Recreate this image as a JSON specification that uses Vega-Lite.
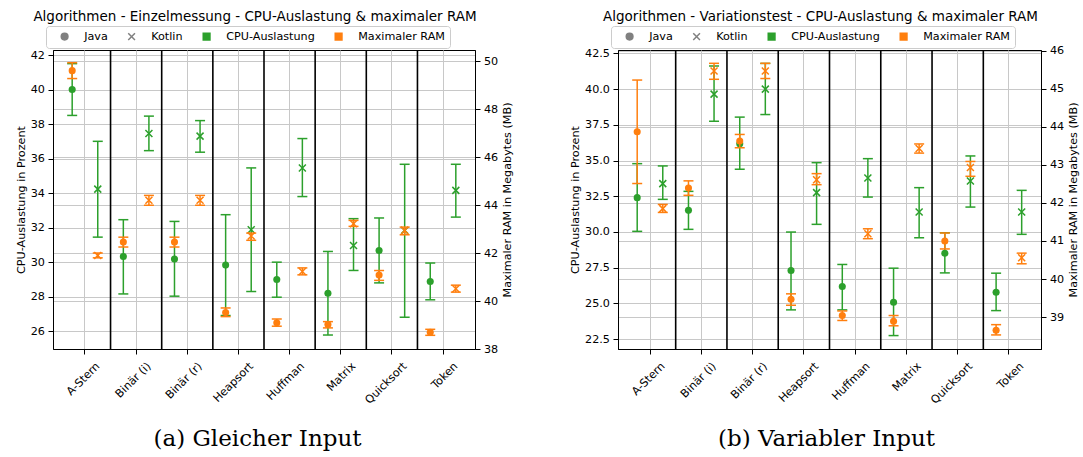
{
  "$schema": "https://vega.github.io/schema/vega-lite/v6.json",
  "padding": {"left": 14, "top": 9, "right": 0, "bottom": 3},
  "spacing": 55,
  "config": {
    "font": "DejaVu Sans",
    "view": {"stroke": "#000", "strokeWidth": 1},
    "axis": {"labelFont": "DejaVu Sans", "labelFontSize": 11.2, "labelColor": "#000", "titleFont": "DejaVu Sans", "titleFontSize": 11.2, "titleFontWeight": "normal", "titleColor": "#000", "tickColor": "#000", "tickSize": 5, "domainColor": "#000", "gridColor": "#c8c8c8", "gridWidth": 1, "labelPadding": 3.5, "titlePadding": 4},
    "axisRight": {"titleAngle": 270, "titleBaseline": "top"},
    "title": {"font": "DejaVu Sans", "fontSize": 13.5, "fontWeight": "normal", "color": "#000", "offset": 2},
    "legend": {"labelFont": "DejaVu Sans", "labelFontSize": 11.2, "labelColor": "#000"}
  },
  "datasets": {
    "gleich": [
      {"algo": "A-Stern", "lang": "Java", "metric": "CPU", "mean": 40.0, "lo": 38.5, "hi": 41.5},
      {"algo": "A-Stern", "lang": "Java", "metric": "RAM", "mean": 49.6, "lo": 49.27, "hi": 49.93},
      {"algo": "A-Stern", "lang": "Kotlin", "metric": "CPU", "mean": 34.23, "lo": 31.45, "hi": 37.0},
      {"algo": "A-Stern", "lang": "Kotlin", "metric": "RAM", "mean": 41.9, "lo": 41.8, "hi": 42.0},
      {"algo": "Binär (i)", "lang": "Java", "metric": "CPU", "mean": 30.33, "lo": 28.16, "hi": 32.46},
      {"algo": "Binär (i)", "lang": "Java", "metric": "RAM", "mean": 42.46, "lo": 42.25, "hi": 42.66},
      {"algo": "Binär (i)", "lang": "Kotlin", "metric": "CPU", "mean": 37.45, "lo": 36.46, "hi": 38.46},
      {"algo": "Binär (i)", "lang": "Kotlin", "metric": "RAM", "mean": 44.2, "lo": 43.99, "hi": 44.4},
      {"algo": "Binär (r)", "lang": "Java", "metric": "CPU", "mean": 30.18, "lo": 28.03, "hi": 32.36},
      {"algo": "Binär (r)", "lang": "Java", "metric": "RAM", "mean": 42.46, "lo": 42.25, "hi": 42.66},
      {"algo": "Binär (r)", "lang": "Kotlin", "metric": "CPU", "mean": 37.3, "lo": 36.37, "hi": 38.2},
      {"algo": "Binär (r)", "lang": "Kotlin", "metric": "RAM", "mean": 44.2, "lo": 43.99, "hi": 44.4},
      {"algo": "Heapsort", "lang": "Java", "metric": "CPU", "mean": 29.83, "lo": 26.91, "hi": 32.75},
      {"algo": "Heapsort", "lang": "Java", "metric": "RAM", "mean": 39.52, "lo": 39.35, "hi": 39.71},
      {"algo": "Heapsort", "lang": "Kotlin", "metric": "CPU", "mean": 31.88, "lo": 28.3, "hi": 35.46},
      {"algo": "Heapsort", "lang": "Kotlin", "metric": "RAM", "mean": 42.71, "lo": 42.53, "hi": 42.83},
      {"algo": "Huffman", "lang": "Java", "metric": "CPU", "mean": 29.0, "lo": 27.97, "hi": 30.0},
      {"algo": "Huffman", "lang": "Java", "metric": "RAM", "mean": 39.09, "lo": 38.95, "hi": 39.25},
      {"algo": "Huffman", "lang": "Kotlin", "metric": "CPU", "mean": 35.46, "lo": 33.8, "hi": 37.16},
      {"algo": "Huffman", "lang": "Kotlin", "metric": "RAM", "mean": 41.23, "lo": 41.09, "hi": 41.38},
      {"algo": "Matrix", "lang": "Java", "metric": "CPU", "mean": 28.2, "lo": 25.78, "hi": 30.62},
      {"algo": "Matrix", "lang": "Java", "metric": "RAM", "mean": 39.02, "lo": 38.88, "hi": 39.14},
      {"algo": "Matrix", "lang": "Kotlin", "metric": "CPU", "mean": 30.97, "lo": 29.52, "hi": 32.52},
      {"algo": "Matrix", "lang": "Kotlin", "metric": "RAM", "mean": 43.22, "lo": 43.11, "hi": 43.36},
      {"algo": "Quicksort", "lang": "Java", "metric": "CPU", "mean": 30.68, "lo": 28.8, "hi": 32.56},
      {"algo": "Quicksort", "lang": "Java", "metric": "RAM", "mean": 41.08, "lo": 40.86, "hi": 41.27},
      {"algo": "Quicksort", "lang": "Kotlin", "metric": "CPU", "mean": 31.84, "lo": 26.81, "hi": 35.67},
      {"algo": "Quicksort", "lang": "Kotlin", "metric": "RAM", "mean": 42.94, "lo": 42.76, "hi": 43.08},
      {"algo": "Token", "lang": "Java", "metric": "CPU", "mean": 28.88, "lo": 27.82, "hi": 29.95},
      {"algo": "Token", "lang": "Java", "metric": "RAM", "mean": 38.7, "lo": 38.57, "hi": 38.82},
      {"algo": "Token", "lang": "Kotlin", "metric": "CPU", "mean": 34.16, "lo": 32.61, "hi": 35.67},
      {"algo": "Token", "lang": "Kotlin", "metric": "RAM", "mean": 40.51, "lo": 40.37, "hi": 40.66}
    ],
    "variabel": [
      {"algo": "A-Stern", "lang": "Java", "metric": "CPU", "mean": 32.4, "lo": 30.04, "hi": 34.78},
      {"algo": "A-Stern", "lang": "Java", "metric": "RAM", "mean": 43.87, "lo": 42.51, "hi": 45.23},
      {"algo": "A-Stern", "lang": "Kotlin", "metric": "CPU", "mean": 33.38, "lo": 32.28, "hi": 34.62},
      {"algo": "A-Stern", "lang": "Kotlin", "metric": "RAM", "mean": 41.85, "lo": 41.75, "hi": 41.96},
      {"algo": "Binär (i)", "lang": "Java", "metric": "CPU", "mean": 31.51, "lo": 30.18, "hi": 32.84},
      {"algo": "Binär (i)", "lang": "Java", "metric": "RAM", "mean": 42.39, "lo": 42.2, "hi": 42.58},
      {"algo": "Binär (i)", "lang": "Kotlin", "metric": "CPU", "mean": 39.65, "lo": 37.75, "hi": 41.62},
      {"algo": "Binär (i)", "lang": "Kotlin", "metric": "RAM", "mean": 45.47, "lo": 45.25, "hi": 45.67},
      {"algo": "Binär (r)", "lang": "Java", "metric": "CPU", "mean": 36.18, "lo": 34.39, "hi": 38.04},
      {"algo": "Binär (r)", "lang": "Java", "metric": "RAM", "mean": 43.63, "lo": 43.45, "hi": 43.8},
      {"algo": "Binär (r)", "lang": "Kotlin", "metric": "CPU", "mean": 40.0, "lo": 38.22, "hi": 41.8},
      {"algo": "Binär (r)", "lang": "Kotlin", "metric": "RAM", "mean": 45.47, "lo": 45.27, "hi": 45.67},
      {"algo": "Heapsort", "lang": "Java", "metric": "CPU", "mean": 27.3, "lo": 24.54, "hi": 29.99},
      {"algo": "Heapsort", "lang": "Java", "metric": "RAM", "mean": 39.47, "lo": 39.31, "hi": 39.61},
      {"algo": "Heapsort", "lang": "Kotlin", "metric": "CPU", "mean": 32.75, "lo": 30.53, "hi": 34.85},
      {"algo": "Heapsort", "lang": "Kotlin", "metric": "RAM", "mean": 42.61, "lo": 42.48, "hi": 42.77},
      {"algo": "Huffman", "lang": "Java", "metric": "CPU", "mean": 26.18, "lo": 24.54, "hi": 27.72},
      {"algo": "Huffman", "lang": "Java", "metric": "RAM", "mean": 39.04, "lo": 38.91, "hi": 39.16},
      {"algo": "Huffman", "lang": "Kotlin", "metric": "CPU", "mean": 33.78, "lo": 32.44, "hi": 35.13},
      {"algo": "Huffman", "lang": "Kotlin", "metric": "RAM", "mean": 41.19, "lo": 41.06, "hi": 41.32},
      {"algo": "Matrix", "lang": "Java", "metric": "CPU", "mean": 25.07, "lo": 22.74, "hi": 27.46},
      {"algo": "Matrix", "lang": "Java", "metric": "RAM", "mean": 38.89, "lo": 38.77, "hi": 39.04},
      {"algo": "Matrix", "lang": "Kotlin", "metric": "CPU", "mean": 31.39, "lo": 29.59, "hi": 33.1},
      {"algo": "Matrix", "lang": "Kotlin", "metric": "RAM", "mean": 43.43, "lo": 43.31, "hi": 43.55},
      {"algo": "Quicksort", "lang": "Java", "metric": "CPU", "mean": 28.51, "lo": 27.13, "hi": 29.94},
      {"algo": "Quicksort", "lang": "Java", "metric": "RAM", "mean": 41.0, "lo": 40.79, "hi": 41.21},
      {"algo": "Quicksort", "lang": "Kotlin", "metric": "CPU", "mean": 33.57, "lo": 31.74, "hi": 35.32},
      {"algo": "Quicksort", "lang": "Kotlin", "metric": "RAM", "mean": 42.93, "lo": 42.7, "hi": 43.09},
      {"algo": "Token", "lang": "Java", "metric": "CPU", "mean": 25.78, "lo": 24.49, "hi": 27.11},
      {"algo": "Token", "lang": "Java", "metric": "RAM", "mean": 38.65, "lo": 38.53, "hi": 38.8},
      {"algo": "Token", "lang": "Kotlin", "metric": "CPU", "mean": 31.39, "lo": 29.83, "hi": 32.91},
      {"algo": "Token", "lang": "Kotlin", "metric": "RAM", "mean": 40.56, "lo": 40.4, "hi": 40.68}
    ],
    "legende": [
      {"entry": "Java"}, {"entry": "Kotlin"}, {"entry": "CPU-Auslastung"}, {"entry": "Maximaler RAM"}
    ]
  },
  "resolve": {
    "scale": {"fill": "independent", "stroke": "independent", "shape": "independent"},
    "legend": {"fill": "independent", "stroke": "independent", "shape": "independent"}
  },
  "hconcat": [
    {
      "width": 422, "height": 299,
      "title": {"text": "Algorithmen - Einzelmessung - CPU-Auslastung & maximaler RAM", "dx": -9, "frame": "group"},
      "data": {"name": "gleich"},
      "encoding": {
        "x": {"field": "algo", "type": "nominal", "scale": {"domain": ["A-Stern", "Binär (i)", "Binär (r)", "Heapsort", "Huffman", "Matrix", "Quicksort", "Token"], "paddingInner": 0, "paddingOuter": 0.125},
          "axis": {"title": "(a) Gleicher Input", "titleFont": "DejaVu Serif", "titleFontSize": 23, "titlePadding": 22, "titleX": 204, "labelAngle": -45, "labelAlign": "right", "labelBaseline": "top", "labelOffset": 9, "labelPadding": 6, "labelOverlap": false, "grid": true}}
      },
      "layer": [
        {
          "transform": [{"filter": "datum.metric === 'CPU' && datum.lang === 'Java' && datum.algo !== 'Token'"}],
          "mark": {"type": "rule", "color": "#000", "strokeWidth": 1.6},
          "encoding": {"x": {"field": "algo", "type": "nominal", "bandPosition": 1}}
        },
        {
          "transform": [{"filter": "datum.metric === 'CPU'"}],
          "encoding": {"xOffset": {"field": "lang", "type": "nominal", "scale": {"domain": ["Java", "Kotlin"], "paddingInner": 0, "paddingOuter": 0}}},
          "layer": [
            {"mark": {"type": "rule", "color": "#2ca02c", "strokeWidth": 1.5},
             "encoding": {"y": {"field": "lo", "type": "quantitative", "scale": {"domain": [24.97, 42.29], "nice": false, "zero": false}, "axis": {"title": "CPU-Auslastung in Prozent", "values": [26, 28, 30, 32, 34, 36, 38, 40, 42], "grid": true}}, "y2": {"field": "hi"}}},
            {"mark": {"type": "tick", "color": "#2ca02c", "thickness": 1.5, "size": 10, "opacity": 1},
             "encoding": {"y": {"field": "lo", "type": "quantitative", "scale": {"domain": [24.97, 42.29], "nice": false, "zero": false}, "axis": {"title": "CPU-Auslastung in Prozent", "values": [26, 28, 30, 32, 34, 36, 38, 40, 42], "grid": true}}}},
            {"mark": {"type": "tick", "color": "#2ca02c", "thickness": 1.5, "size": 10, "opacity": 1},
             "encoding": {"y": {"field": "hi", "type": "quantitative", "scale": {"domain": [24.97, 42.29], "nice": false, "zero": false}, "axis": {"title": "CPU-Auslastung in Prozent", "values": [26, 28, 30, 32, 34, 36, 38, 40, 42], "grid": true}}}},
            {"transform": [{"filter": "datum.lang === 'Java'"}],
             "mark": {"type": "circle", "color": "#2ca02c", "size": 50, "opacity": 1},
             "encoding": {"y": {"field": "mean", "type": "quantitative", "scale": {"domain": [24.97, 42.29], "nice": false, "zero": false}, "axis": {"title": "CPU-Auslastung in Prozent", "values": [26, 28, 30, 32, 34, 36, 38, 40, 42], "grid": true}}}},
            {"transform": [{"filter": "datum.lang === 'Kotlin'"}],
             "mark": {"type": "point", "shape": "M-1,-1L1,1M-1,1L1,-1", "filled": false, "color": "#2ca02c", "strokeWidth": 1.5, "size": 49, "opacity": 1},
             "encoding": {"y": {"field": "mean", "type": "quantitative", "scale": {"domain": [24.97, 42.29], "nice": false, "zero": false}, "axis": {"title": "CPU-Auslastung in Prozent", "values": [26, 28, 30, 32, 34, 36, 38, 40, 42], "grid": true}}}}
          ]
        },
        {
          "transform": [{"filter": "datum.metric === 'RAM'"}],
          "encoding": {"xOffset": {"field": "lang", "type": "nominal", "scale": {"domain": ["Java", "Kotlin"], "paddingInner": 0, "paddingOuter": 0}}},
          "layer": [
            {"mark": {"type": "rule", "color": "#ff7f0e", "strokeWidth": 1.5},
             "encoding": {"y": {"field": "lo", "type": "quantitative", "scale": {"domain": [38.0, 50.46], "nice": false, "zero": false}, "axis": {"title": "Maximaler RAM in Megabytes (MB)", "orient": "right", "values": [38, 40, 42, 44, 46, 48, 50], "grid": true}}, "y2": {"field": "hi"}}},
            {"mark": {"type": "tick", "color": "#ff7f0e", "thickness": 1.5, "size": 10, "opacity": 1},
             "encoding": {"y": {"field": "lo", "type": "quantitative", "scale": {"domain": [38.0, 50.46], "nice": false, "zero": false}, "axis": {"title": "Maximaler RAM in Megabytes (MB)", "orient": "right", "values": [38, 40, 42, 44, 46, 48, 50], "grid": true}}}},
            {"mark": {"type": "tick", "color": "#ff7f0e", "thickness": 1.5, "size": 10, "opacity": 1},
             "encoding": {"y": {"field": "hi", "type": "quantitative", "scale": {"domain": [38.0, 50.46], "nice": false, "zero": false}, "axis": {"title": "Maximaler RAM in Megabytes (MB)", "orient": "right", "values": [38, 40, 42, 44, 46, 48, 50], "grid": true}}}},
            {"transform": [{"filter": "datum.lang === 'Java'"}],
             "mark": {"type": "circle", "color": "#ff7f0e", "size": 50, "opacity": 1},
             "encoding": {"y": {"field": "mean", "type": "quantitative", "scale": {"domain": [38.0, 50.46], "nice": false, "zero": false}, "axis": {"title": "Maximaler RAM in Megabytes (MB)", "orient": "right", "values": [38, 40, 42, 44, 46, 48, 50], "grid": true}}}},
            {"transform": [{"filter": "datum.lang === 'Kotlin'"}],
             "mark": {"type": "point", "shape": "M-1,-1L1,1M-1,1L1,-1", "filled": false, "color": "#ff7f0e", "strokeWidth": 1.5, "size": 49, "opacity": 1},
             "encoding": {"y": {"field": "mean", "type": "quantitative", "scale": {"domain": [38.0, 50.46], "nice": false, "zero": false}, "axis": {"title": "Maximaler RAM in Megabytes (MB)", "orient": "right", "values": [38, 40, 42, 44, 46, 48, 50], "grid": true}}}}
          ]
        },
        {
          "data": {"name": "legende"},
          "mark": {"type": "point", "filled": true, "opacity": 0},
          "encoding": {
            "x": null,
            "fill": {"field": "entry", "type": "nominal", "scale": {"domain": ["Java", "Kotlin", "CPU-Auslastung", "Maximaler RAM"], "range": ["#808080", "#808080", "#2ca02c", "#ff7f0e"]},
              "legend": {"title": null, "orient": "none", "legendX": -7, "legendY": -24, "direction": "horizontal", "symbolOpacity": 1, "symbolSize": 45, "symbolStrokeWidth": 1.5, "symbolOffset": 8, "labelOffset": 14, "columnPadding": 10, "padding": 5, "strokeColor": "#cccccc", "fillColor": "#ffffff", "cornerRadius": 3}},
            "stroke": {"field": "entry", "type": "nominal", "scale": {"domain": ["Java", "Kotlin", "CPU-Auslastung", "Maximaler RAM"], "range": ["#808080", "#808080", "#2ca02c", "#ff7f0e"]},
              "legend": {"title": null, "orient": "none", "legendX": -7, "legendY": -24, "direction": "horizontal", "symbolOpacity": 1, "symbolSize": 45, "symbolStrokeWidth": 1.5, "symbolOffset": 8, "labelOffset": 14, "columnPadding": 10, "padding": 5, "strokeColor": "#cccccc", "fillColor": "#ffffff", "cornerRadius": 3}},
            "shape": {"field": "entry", "type": "nominal", "scale": {"domain": ["Java", "Kotlin", "CPU-Auslastung", "Maximaler RAM"], "range": ["circle", "M-1,-1L1,1M-1,1L1,-1", "square", "square"]},
              "legend": {"title": null, "orient": "none", "legendX": -7, "legendY": -24, "direction": "horizontal", "symbolOpacity": 1, "symbolSize": 45, "symbolStrokeWidth": 1.5, "symbolOffset": 8, "labelOffset": 14, "columnPadding": 10, "padding": 5, "strokeColor": "#cccccc", "fillColor": "#ffffff", "cornerRadius": 3}}
          }
        }
      ],
      "resolve": {"scale": {"y": "independent"}}
    },
    {
      "width": 423, "height": 299,
      "title": {"text": "Algorithmen - Variationstest - CPU-Auslastung & maximaler RAM", "dx": -9, "frame": "group"},
      "data": {"name": "variabel"},
      "encoding": {
        "x": {"field": "algo", "type": "nominal", "scale": {"domain": ["A-Stern", "Binär (i)", "Binär (r)", "Heapsort", "Huffman", "Matrix", "Quicksort", "Token"], "paddingInner": 0, "paddingOuter": 0.125},
          "axis": {"title": "(b) Variabler Input", "titleFont": "DejaVu Serif", "titleFontSize": 23, "titlePadding": 22, "titleX": 208, "labelAngle": -45, "labelAlign": "right", "labelBaseline": "top", "labelOffset": 9, "labelPadding": 6, "labelOverlap": false, "grid": true}}
      },
      "layer": [
        {
          "transform": [{"filter": "datum.metric === 'CPU' && datum.lang === 'Java' && datum.algo !== 'Token'"}],
          "mark": {"type": "rule", "color": "#000", "strokeWidth": 1.6},
          "encoding": {"x": {"field": "algo", "type": "nominal", "bandPosition": 1}}
        },
        {
          "transform": [{"filter": "datum.metric === 'CPU'"}],
          "encoding": {"xOffset": {"field": "lang", "type": "nominal", "scale": {"domain": ["Java", "Kotlin"], "paddingInner": 0, "paddingOuter": 0}}},
          "layer": [
            {"mark": {"type": "rule", "color": "#2ca02c", "strokeWidth": 1.5},
             "encoding": {"y": {"field": "lo", "type": "quantitative", "scale": {"domain": [21.8, 42.74], "nice": false, "zero": false}, "axis": {"title": "CPU-Auslastung in Prozent", "values": [22.5, 25, 27.5, 30, 32.5, 35, 37.5, 40, 42.5], "format": ".1f", "grid": true}}, "y2": {"field": "hi"}}},
            {"mark": {"type": "tick", "color": "#2ca02c", "thickness": 1.5, "size": 10, "opacity": 1},
             "encoding": {"y": {"field": "lo", "type": "quantitative", "scale": {"domain": [21.8, 42.74], "nice": false, "zero": false}, "axis": {"title": "CPU-Auslastung in Prozent", "values": [22.5, 25, 27.5, 30, 32.5, 35, 37.5, 40, 42.5], "format": ".1f", "grid": true}}}},
            {"mark": {"type": "tick", "color": "#2ca02c", "thickness": 1.5, "size": 10, "opacity": 1},
             "encoding": {"y": {"field": "hi", "type": "quantitative", "scale": {"domain": [21.8, 42.74], "nice": false, "zero": false}, "axis": {"title": "CPU-Auslastung in Prozent", "values": [22.5, 25, 27.5, 30, 32.5, 35, 37.5, 40, 42.5], "format": ".1f", "grid": true}}}},
            {"transform": [{"filter": "datum.lang === 'Java'"}],
             "mark": {"type": "circle", "color": "#2ca02c", "size": 50, "opacity": 1},
             "encoding": {"y": {"field": "mean", "type": "quantitative", "scale": {"domain": [21.8, 42.74], "nice": false, "zero": false}, "axis": {"title": "CPU-Auslastung in Prozent", "values": [22.5, 25, 27.5, 30, 32.5, 35, 37.5, 40, 42.5], "format": ".1f", "grid": true}}}},
            {"transform": [{"filter": "datum.lang === 'Kotlin'"}],
             "mark": {"type": "point", "shape": "M-1,-1L1,1M-1,1L1,-1", "filled": false, "color": "#2ca02c", "strokeWidth": 1.5, "size": 49, "opacity": 1},
             "encoding": {"y": {"field": "mean", "type": "quantitative", "scale": {"domain": [21.8, 42.74], "nice": false, "zero": false}, "axis": {"title": "CPU-Auslastung in Prozent", "values": [22.5, 25, 27.5, 30, 32.5, 35, 37.5, 40, 42.5], "format": ".1f", "grid": true}}}}
          ]
        },
        {
          "transform": [{"filter": "datum.metric === 'RAM'"}],
          "encoding": {"xOffset": {"field": "lang", "type": "nominal", "scale": {"domain": ["Java", "Kotlin"], "paddingInner": 0, "paddingOuter": 0}}},
          "layer": [
            {"mark": {"type": "rule", "color": "#ff7f0e", "strokeWidth": 1.5},
             "encoding": {"y": {"field": "lo", "type": "quantitative", "scale": {"domain": [38.16, 46.02], "nice": false, "zero": false}, "axis": {"title": "Maximaler RAM in Megabytes (MB)", "orient": "right", "values": [39, 40, 41, 42, 43, 44, 45, 46], "grid": true}}, "y2": {"field": "hi"}}},
            {"mark": {"type": "tick", "color": "#ff7f0e", "thickness": 1.5, "size": 10, "opacity": 1},
             "encoding": {"y": {"field": "lo", "type": "quantitative", "scale": {"domain": [38.16, 46.02], "nice": false, "zero": false}, "axis": {"title": "Maximaler RAM in Megabytes (MB)", "orient": "right", "values": [39, 40, 41, 42, 43, 44, 45, 46], "grid": true}}}},
            {"mark": {"type": "tick", "color": "#ff7f0e", "thickness": 1.5, "size": 10, "opacity": 1},
             "encoding": {"y": {"field": "hi", "type": "quantitative", "scale": {"domain": [38.16, 46.02], "nice": false, "zero": false}, "axis": {"title": "Maximaler RAM in Megabytes (MB)", "orient": "right", "values": [39, 40, 41, 42, 43, 44, 45, 46], "grid": true}}}},
            {"transform": [{"filter": "datum.lang === 'Java'"}],
             "mark": {"type": "circle", "color": "#ff7f0e", "size": 50, "opacity": 1},
             "encoding": {"y": {"field": "mean", "type": "quantitative", "scale": {"domain": [38.16, 46.02], "nice": false, "zero": false}, "axis": {"title": "Maximaler RAM in Megabytes (MB)", "orient": "right", "values": [39, 40, 41, 42, 43, 44, 45, 46], "grid": true}}}},
            {"transform": [{"filter": "datum.lang === 'Kotlin'"}],
             "mark": {"type": "point", "shape": "M-1,-1L1,1M-1,1L1,-1", "filled": false, "color": "#ff7f0e", "strokeWidth": 1.5, "size": 49, "opacity": 1},
             "encoding": {"y": {"field": "mean", "type": "quantitative", "scale": {"domain": [38.16, 46.02], "nice": false, "zero": false}, "axis": {"title": "Maximaler RAM in Megabytes (MB)", "orient": "right", "values": [39, 40, 41, 42, 43, 44, 45, 46], "grid": true}}}}
          ]
        },
        {
          "data": {"name": "legende"},
          "mark": {"type": "point", "filled": true, "opacity": 0},
          "encoding": {
            "x": null,
            "fill": {"field": "entry", "type": "nominal", "scale": {"domain": ["Java", "Kotlin", "CPU-Auslastung", "Maximaler RAM"], "range": ["#808080", "#808080", "#2ca02c", "#ff7f0e"]},
              "legend": {"title": null, "orient": "none", "legendX": -7, "legendY": -24, "direction": "horizontal", "symbolOpacity": 1, "symbolSize": 45, "symbolStrokeWidth": 1.5, "symbolOffset": 8, "labelOffset": 14, "columnPadding": 10, "padding": 5, "strokeColor": "#cccccc", "fillColor": "#ffffff", "cornerRadius": 3}},
            "stroke": {"field": "entry", "type": "nominal", "scale": {"domain": ["Java", "Kotlin", "CPU-Auslastung", "Maximaler RAM"], "range": ["#808080", "#808080", "#2ca02c", "#ff7f0e"]},
              "legend": {"title": null, "orient": "none", "legendX": -7, "legendY": -24, "direction": "horizontal", "symbolOpacity": 1, "symbolSize": 45, "symbolStrokeWidth": 1.5, "symbolOffset": 8, "labelOffset": 14, "columnPadding": 10, "padding": 5, "strokeColor": "#cccccc", "fillColor": "#ffffff", "cornerRadius": 3}},
            "shape": {"field": "entry", "type": "nominal", "scale": {"domain": ["Java", "Kotlin", "CPU-Auslastung", "Maximaler RAM"], "range": ["circle", "M-1,-1L1,1M-1,1L1,-1", "square", "square"]},
              "legend": {"title": null, "orient": "none", "legendX": -7, "legendY": -24, "direction": "horizontal", "symbolOpacity": 1, "symbolSize": 45, "symbolStrokeWidth": 1.5, "symbolOffset": 8, "labelOffset": 14, "columnPadding": 10, "padding": 5, "strokeColor": "#cccccc", "fillColor": "#ffffff", "cornerRadius": 3}}
          }
        }
      ],
      "resolve": {"scale": {"y": "independent"}}
    }
  ]
}
